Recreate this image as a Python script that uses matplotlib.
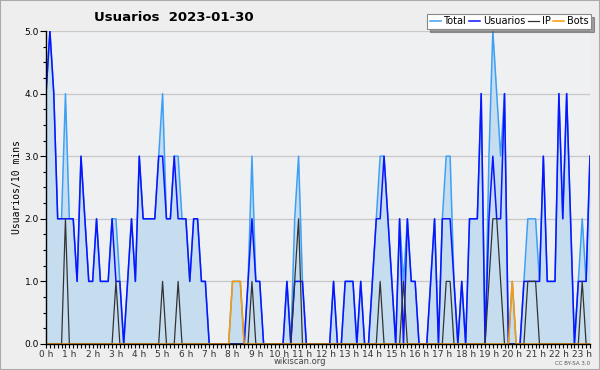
import matplotlib
matplotlib.use("Agg")
import matplotlib.pyplot as plt
import numpy as np

# 10-minute slots from 00:00 to 23:20
usuarios = [4, 5, 4, 2, 2, 2, 2, 2, 1, 3, 2, 1, 1, 2, 1, 1, 1, 2, 1, 1,
            0, 1, 2, 1, 3, 2, 2, 2, 2, 3, 3, 2, 2, 3, 2, 2, 2, 1, 2, 2,
            1, 1, 0, 0, 0, 0, 0, 0, 0, 0, 0, 0, 1, 2, 1, 1, 0, 0, 0, 0,
            0, 0, 1, 0, 1, 1, 1, 0, 0, 0, 0, 0, 0, 0, 1, 0, 0, 1, 1, 1,
            0, 1, 0, 0, 1, 2, 2, 3, 2, 1, 0, 2, 0, 2, 1, 1, 0, 0, 0, 1,
            2, 0, 2, 2, 2, 1, 0, 1, 0, 2, 2, 2, 4, 0, 2, 3, 2, 2, 4, 0,
            0, 0, 0, 1, 1, 1, 1, 1, 3, 1, 1, 1, 4, 2, 4, 2, 0, 1, 1, 1,
            3]
ip = [0, 0, 0, 0, 0, 2, 0, 0, 0, 0, 0, 0, 0, 0, 0, 0, 0, 0, 1, 0,
      0, 0, 0, 0, 0, 0, 0, 0, 0, 0, 1, 0, 0, 0, 1, 0, 0, 0, 0, 0,
      0, 0, 0, 0, 0, 0, 0, 0, 0, 0, 0, 0, 0, 1, 0, 0, 0, 0, 0, 0,
      0, 0, 0, 0, 1, 2, 0, 0, 0, 0, 0, 0, 0, 0, 0, 0, 0, 0, 0, 0,
      0, 0, 0, 0, 0, 0, 1, 0, 0, 0, 0, 0, 1, 0, 0, 0, 0, 0, 0, 0,
      0, 0, 0, 1, 1, 0, 0, 0, 0, 0, 0, 0, 0, 0, 1, 2, 2, 1, 0, 0,
      0, 0, 0, 0, 1, 1, 1, 0, 0, 0, 0, 0, 0, 0, 0, 0, 0, 0, 1, 0,
      0]
bots = [0] * 48 + [1, 1, 1] + [0] * 69 + [1] + [0] * 20
total = [4, 5, 4, 2, 2, 4, 2, 2, 1, 3, 2, 1, 1, 2, 1, 1, 1, 2, 2, 1,
         0, 1, 2, 1, 3, 2, 2, 2, 2, 3, 4, 2, 2, 3, 3, 2, 2, 1, 2, 2,
         1, 1, 0, 0, 0, 0, 0, 0, 1, 1, 1, 0, 1, 3, 1, 1, 0, 0, 0, 0,
         0, 0, 1, 0, 2, 3, 1, 0, 0, 0, 0, 0, 0, 0, 1, 0, 0, 1, 1, 1,
         0, 1, 0, 0, 1, 2, 3, 3, 2, 1, 0, 2, 1, 2, 1, 1, 0, 0, 0, 1,
         2, 0, 2, 3, 3, 1, 0, 1, 0, 2, 2, 2, 4, 0, 3, 5, 4, 3, 4, 0,
         1, 0, 0, 1, 2, 2, 2, 1, 3, 1, 1, 1, 4, 2, 4, 2, 0, 1, 2, 1,
         3]
hour_labels = [f"{h} h" for h in range(24)]

hours = np.arange(len(total)) / 6.0

fig = plt.figure(figsize=(6, 3.7), dpi=100, facecolor="#eeeeee")
fig.patches.append(plt.Rectangle((0, 0), 1, 1, transform=fig.transFigure,
                                 fill=False, edgecolor="#aaaaaa", lw=1.5))
ax = fig.add_axes([0.0767, 0.0703, 0.9066, 0.8459])
ax.set_facecolor("#eff0f2")

ax.fill_between(hours, total, 0, color="#c6ddf0", lw=0)
ax.plot(hours, total, color="#3da0f5", lw=1.1, label="Total")
ax.plot(hours, usuarios, color="#0a14ff", lw=1.1, label="Usuarios")
ax.plot(hours, ip, color="#333333", lw=0.9, label="IP")
ax.plot(hours, bots, color="#ff9900", lw=1.1, label="Bots")

ax.set_xlim(0, hours[-1])
ax.set_ylim(0, 5)
ax.set_yticks(np.arange(0, 5.01, 1.0))
ax.set_yticklabels([f"{v:.1f}" for v in np.arange(0, 5.01, 1.0)], fontsize=6.5)
ax.set_yticks(np.arange(0, 5.01, 0.25), minor=True)
ax.set_xticks(np.arange(24))
ax.set_xticklabels(hour_labels, fontsize=6.5, color="#333333")
ax.set_xticks(hours, minor=True)
ax.tick_params(axis="x", which="both", length=3, width=0.8, pad=1)
ax.tick_params(axis="y", which="major", length=4, width=0.8, pad=1)
ax.tick_params(axis="y", which="minor", length=2, width=0.8)
ax.grid(axis="y", which="major", color="#c8c8c8", lw=0.9)
ax.set_axisbelow(True)
for side in ("top", "right"):
    ax.spines[side].set_visible(False)
ax.spines["left"].set_linewidth(1.0)
ax.spines["bottom"].set_linewidth(1.0)

ax.set_ylabel("Usuarios/10 mins", fontsize=7, family="DejaVu Sans Mono", labelpad=2)
fig.text(0.29, 0.952, "Usuarios  2023-01-30", fontsize=9.5, fontweight="bold",
         ha="center", va="center")
fig.text(0.5, 0.022, "wikiscan.org", fontsize=6, color="#444444", ha="center", va="center")
fig.text(0.955, 0.018, "CC BY-SA 3.0", fontsize=4, color="#555555", ha="center", va="center")

leg = fig.legend(loc="upper right", bbox_to_anchor=(0.985, 0.962), ncol=4,
                 fontsize=7, frameon=True, fancybox=False, shadow=True,
                 handlelength=1.1, handletextpad=0.3, columnspacing=0.3,
                 borderpad=0.25, borderaxespad=0)
leg.get_frame().set_edgecolor("#888888")
leg.get_frame().set_linewidth(0.8)

fig.savefig("out.png", dpi=100, facecolor=fig.get_facecolor())
